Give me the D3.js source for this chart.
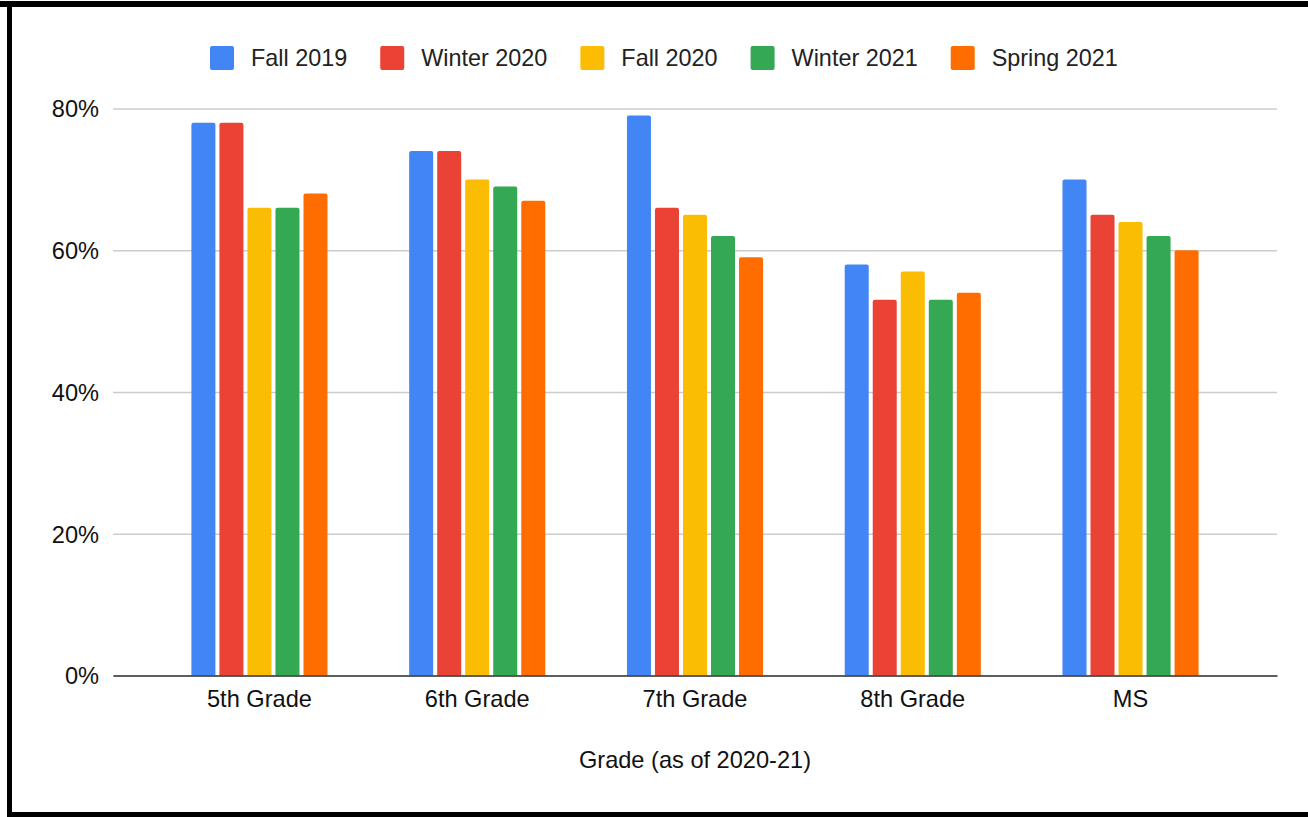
<!DOCTYPE html>
<html lang="en">
<head>
  <title>Grade chart</title>
  <script src="https://d3js.org/d3.v7.min.js"></script>
  <style>
    body { margin: 0; background: #fff; }
    text { font-family: "Liberation Sans", Arial, sans-serif; }
  </style>
</head>
<body>
  <script>
    // Data
    const grades = ["5th Grade", "6th Grade", "7th Grade", "8th Grade", "MS"];
    const seriesNames = ["Fall 2019", "Winter 2020", "Fall 2020", "Winter 2021", "Spring 2021"];
    const seriesColors = ["#4285F4", "#EA4335", "#FBBC04", "#34A853", "#FF6D01"];
    const fall2019 = [78, 74, 79, 58, 70];
    const winter2020 = [78, 74, 66, 53, 65];
    const fall2020 = [66, 70, 65, 57, 64];
    const winter2021 = [66, 69, 62, 53, 62];
    const spring2021 = [68, 67, 59, 54, 60];
    const yTicks = [0, 20, 40, 60, 80];
    const xTitle = "Grade (as of 2020-21)";

    const seriesValues = [fall2019, winter2020, fall2020, winter2021, spring2021];

    var width = 1308, height = 817;
    var margin = { top: 108.5, right: 31, bottom: 141.5, left: 113 };
    var fontSize = "23.6px";

    var svg = d3.select("body").append("svg")
      .attr("width", width)
      .attr("height", height);

    // frame
    svg.append("rect").attr("x", 0).attr("y", 1).attr("width", width).attr("height", 6).attr("fill", "#000");
    svg.append("rect").attr("x", 7).attr("y", 1).attr("width", 5).attr("height", height).attr("fill", "#000");
    svg.append("rect").attr("x", 7).attr("y", 812).attr("width", width).attr("height", 5).attr("fill", "#000");

    // scales
    var x0 = d3.scaleBand()
      .domain(grades)
      .range([margin.left, width - margin.right])
      .paddingInner(0.375)
      .paddingOuter(0.36);

    var x1 = d3.scaleBand()
      .domain(seriesNames)
      .range([0, x0.bandwidth()])
      .paddingInner(0.143);

    var y = d3.scaleLinear()
      .domain([0, 80])
      .range([height - margin.bottom, margin.top]);

    // gridlines + y labels
    var yAxis = svg.append("g")
      .attr("transform", "translate(" + margin.left + ",0)")
      .call(d3.axisLeft(y).tickValues(yTicks)
        .tickSize(-(width - margin.left - margin.right))
        .tickPadding(14)
        .tickFormat(d => d + "%"));
    yAxis.select(".domain").remove();
    yAxis.selectAll(".tick line").attr("stroke", "#cccccc").attr("stroke-width", 1.5);
    yAxis.selectAll(".tick text")
      .attr("font-size", fontSize)
      .attr("fill", "#111")
      .attr("dy", "0.35em");

    // bars
    var groups = svg.selectAll("g.grade")
      .data(grades)
      .enter()
      .append("g")
      .attr("class", "grade")
      .attr("transform", d => "translate(" + x0(d) + ",0)");

    groups.selectAll("path")
      .data((g, gi) => seriesNames.map((s, si) => ({ s: s, si: si, v: seriesValues[si][gi] })))
      .enter()
      .append("path")
      .attr("fill", d => seriesColors[d.si])
      .attr("d", function(d) {
        var bx = x1(d.s), bw = x1.bandwidth(), top = y(d.v), bot = y(0), r = 2;
        return "M" + bx + "," + bot +
          "V" + (top + r) +
          "Q" + bx + "," + top + " " + (bx + r) + "," + top +
          "H" + (bx + bw - r) +
          "Q" + (bx + bw) + "," + top + " " + (bx + bw) + "," + (top + r) +
          "V" + bot + "Z";
      });

    // baseline
    var xAxis = svg.append("g")
      .attr("transform", "translate(0," + y(0) + ")")
      .call(d3.axisBottom(x0).tickSize(0).tickPadding(15));
    xAxis.select(".domain").attr("stroke", "#333").attr("stroke-width", 1.5);
    xAxis.selectAll(".tick text")
      .attr("font-size", fontSize)
      .attr("fill", "#111");

    // axis title
    svg.append("text")
      .attr("x", (margin.left + width - margin.right) / 2)
      .attr("y", 768)
      .attr("text-anchor", "middle")
      .attr("font-size", fontSize)
      .attr("fill", "#111")
      .text(xTitle);

    // legend
    var legend = svg.append("g");
    var lx = 210;
    seriesNames.forEach(function(name, i) {
      legend.append("rect")
        .attr("x", lx).attr("y", 46)
        .attr("width", 24).attr("height", 24)
        .attr("rx", 2)
        .attr("fill", seriesColors[i]);
      var t = legend.append("text")
        .attr("x", lx + 41).attr("y", 58)
        .attr("dy", "0.35em")
        .attr("font-size", "23.4px")
        .attr("fill", "#222")
        .text(name);
      lx += 41 + t.node().getComputedTextLength() + 33;
    });
  </script>
</body>
</html>
